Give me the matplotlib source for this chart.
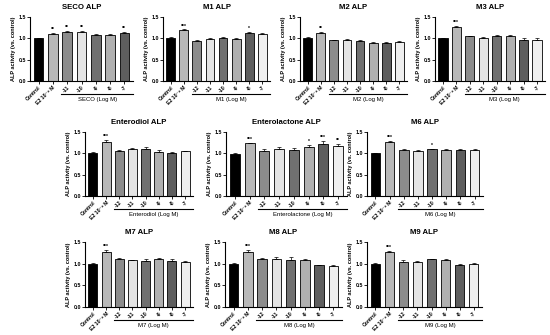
import matplotlib
matplotlib.use("Agg")
import matplotlib.pyplot as plt
import matplotlib.transforms as mtransforms

plt.rcParams['font.family'] = ['Liberation Sans', 'DejaVu Sans']

E2 = 'E2 10⁻⁸ M'
conc8 = ['-12', '-11', '-10', '-9', '-8', '-7']
conc7 = ['-11', '-10', '-9', '-8', '-7']

seco_labels = ['Control', E2] + conc7
seco_vals = [1.00, 1.11, 1.14, 1.14, 1.07, 1.07, 1.13]
seco_err = [0.01, 0.02, 0.03, 0.04, 0.02, 0.03, 0.03]
seco_sig = ['', '**', '**', '**', '', '', '**']

m1_vals = [1.00, 1.20, 0.94, 0.98, 1.01, 0.98, 1.13, 1.09]
m1_err = [0.02, 0.01, 0.01, 0.02, 0.03, 0.02, 0.03, 0.04]
m1_sig = ['', '***', '', '', '', '', '*', '']

m2_vals = [1.00, 1.12, 0.95, 0.97, 0.93, 0.90, 0.89, 0.91]
m2_err = [0.02, 0.04, 0.02, 0.02, 0.04, 0.01, 0.02, 0.02]
m2_sig = ['', '**', '', '', '', '', '', '']

m3_vals = [1.00, 1.27, 1.05, 1.01, 1.05, 1.05, 0.97, 0.96]
m3_err = [0.01, 0.03, 0.01, 0.03, 0.02, 0.02, 0.03, 0.04]
m3_sig = ['', '***', '', '', '', '', '', '']

ed_vals = [1.00, 1.27, 1.05, 1.09, 1.11, 1.04, 1.01, 1.05]
ed_err = [0.02, 0.04, 0.02, 0.04, 0.04, 0.04, 0.01, 0.01]
ed_sig = ['', '***', '', '', '', '', '', '']

el_vals = [0.98, 1.24, 1.06, 1.11, 1.08, 1.15, 1.23, 1.18]
el_err = [0.02, 0.01, 0.03, 0.03, 0.04, 0.04, 0.06, 0.04]
el_sig = ['', '***', '', '', '', '*', '***', '**']

m6_vals = [1.00, 1.27, 1.07, 1.06, 1.09, 1.08, 1.08, 1.08]
m6_err = [0.01, 0.03, 0.02, 0.01, 0.02, 0.01, 0.01, 0.01]
m6_sig = ['', '***', '', '', '*', '', '', '']

m7_vals = [1.00, 1.27, 1.10, 1.08, 1.07, 1.11, 1.06, 1.05]
m7_err = [0.02, 0.04, 0.02, 0.01, 0.04, 0.03, 0.04, 0.01]
m7_sig = ['', '***', '', '', '', '', '', '']

m8_vals = [1.00, 1.27, 1.10, 1.11, 1.09, 1.08, 0.97, 0.94]
m8_err = [0.02, 0.05, 0.03, 0.05, 0.06, 0.02, 0.01, 0.02]
m8_sig = ['', '***', '', '', '', '', '', '']

m9_vals = [1.00, 1.27, 1.05, 1.05, 1.10, 1.09, 0.98, 1.00]
m9_err = [0.01, 0.03, 0.03, 0.02, 0.01, 0.02, 0.02, 0.01]
m9_sig = ['', '***', '', '', '', '', '', '']

labels8 = ['Control', E2] + conc8

colors8 = ['#000000', '#b8b8b8', '#8c8c8c', '#e4e4e4', '#707070', '#b0b0b0', '#5e5e5e', '#efefef']
yticks = [0.0, 0.5, 1.0, 1.5]

W, H = 550, 335
fig = plt.figure(figsize=(W / 100, H / 100), dpi=100)


def panel(box, title, group, labels, vals, err, sig):
    l, r, t, b = box
    ax = fig.add_axes([l / W, 1 - b / H, (r - l) / W, (b - t) / H])
    n = len(vals)
    x = list(range(n))
    ax.bar(x, vals, width=0.68, color=colors8[:n], edgecolor='black', linewidth=0.6, zorder=2)
    ax.errorbar(x, vals, yerr=[[0] * n, err], fmt='none', ecolor='black',
                elinewidth=0.5, capsize=1.5, capthick=0.5, zorder=3)
    for xi, v, e, s in zip(x, vals, err, sig):
        if s:
            ax.text(xi, v + e + 0.02, s, ha='center', va='bottom', fontsize=3.6,
                    fontweight='bold')
    ax.set_xlim(-0.6, n - 0.4)
    ax.set_ylim(0, 1.5)
    ax.set_yticks(yticks)
    ax.set_yticklabels(['%.1f' % v for v in yticks], fontsize=3.8, fontweight='bold')
    ax.set_xticks(x)
    ax.set_xticklabels(labels, rotation=45, ha='right', rotation_mode='anchor',
                       fontsize=3.7, fontweight='bold')
    for s in ['top', 'right']:
        ax.spines[s].set_visible(False)
    for s in ['left', 'bottom']:
        ax.spines[s].set_linewidth(0.8)
    ax.tick_params(axis='both', width=0.6, length=2, pad=1)
    ax.set_ylabel('ALP activity (vs. control)', fontsize=4.0, fontweight='bold', labelpad=2)
    ax.set_title(title, fontsize=5.6, fontweight='bold', pad=6)
    trans = mtransforms.blended_transform_factory(ax.transData, ax.transAxes)
    ax.plot([1.6, n - 0.4], [-0.2, -0.2], color='black', lw=0.8, transform=trans,
            clip_on=False)
    ax.text((1.6 + n - 0.4) / 2, -0.25, group, transform=trans, ha='center', va='top',
            fontsize=4.3)
    return ax


panel([30, 133, 17, 81], 'SECO ALP', 'SECO (Log M)', seco_labels, seco_vals, seco_err, seco_sig)
panel([163, 270, 17, 81], 'M1 ALP', 'M1 (Log M)', labels8, m1_vals, m1_err, m1_sig)
panel([300, 407, 17, 81], 'M2 ALP', 'M2 (Log M)', labels8, m2_vals, m2_err, m2_sig)
panel([435, 545, 17, 81], 'M3 ALP', 'M3 (Log M)', labels8, m3_vals, m3_err, m3_sig)

panel([85, 193, 132, 196], 'Enterodiol ALP', 'Enterodiol (Log M)', labels8, ed_vals, ed_err, ed_sig)
panel([226, 347, 132, 196], 'Enterolactone ALP', 'Enterolactone (Log M)', labels8, el_vals, el_err, el_sig)
panel([367, 483, 132, 196], 'M6 ALP', 'M6 (Log M)', labels8, m6_vals, m6_err, m6_sig)

panel([85, 193, 242, 307], 'M7 ALP', 'M7 (Log M)', labels8, m7_vals, m7_err, m7_sig)
panel([225, 342, 242, 307], 'M8 ALP', 'M8 (Log M)', labels8, m8_vals, m8_err, m8_sig)
panel([367, 482, 242, 307], 'M9 ALP', 'M9 (Log M)', labels8, m9_vals, m9_err, m9_sig)

fig.savefig('out.png', dpi=100)
